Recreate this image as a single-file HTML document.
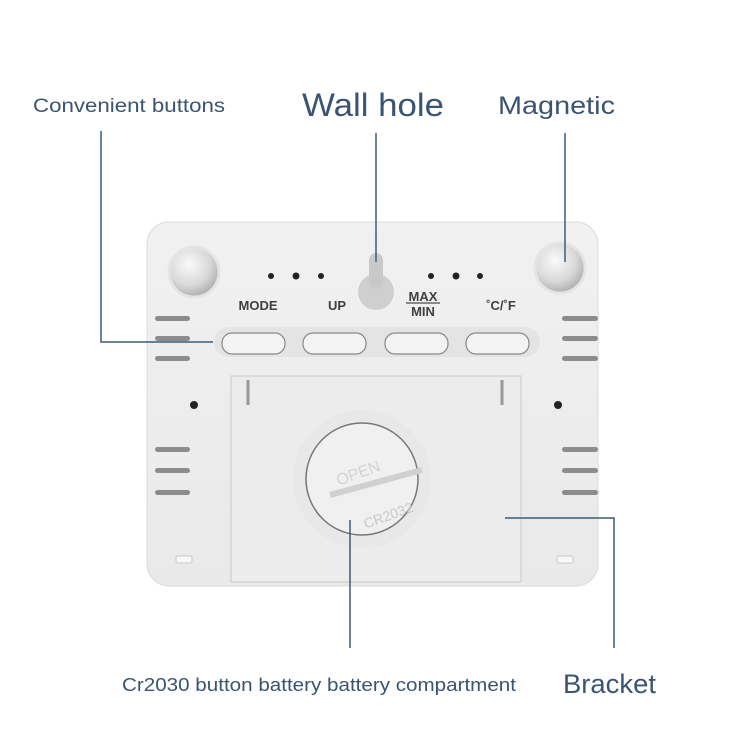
<!DOCTYPE html>
<html><head><meta charset="utf-8"><style>
body{margin:0;background:#fff;width:750px;height:749px;overflow:hidden;font-family:"Liberation Sans",sans-serif}
svg{display:block}
</style></head><body>
<svg width="750" height="749" viewBox="0 0 750 749" xmlns="http://www.w3.org/2000/svg">
<defs>
<radialGradient id="mag" cx="0.4" cy="0.35" r="0.7"><stop offset="0" stop-color="#fafafa"/><stop offset="0.6" stop-color="#d8d8d8"/><stop offset="1" stop-color="#a8a8a8"/></radialGradient>
<linearGradient id="body" x1="0" y1="0" x2="0" y2="1"><stop offset="0" stop-color="#f1f1f1"/><stop offset="1" stop-color="#e9e9e9"/></linearGradient>
</defs>
<rect x="147" y="222" width="451" height="364" rx="22" fill="url(#body)" stroke="#dcdcdc"/>
<circle cx="194" cy="272" r="25" fill="url(#mag)" stroke="#e4e4e4" stroke-width="3"/>
<circle cx="560" cy="268" r="25" fill="url(#mag)" stroke="#e4e4e4" stroke-width="3"/>
<g fill="#222"><circle cx="271" cy="276" r="3"/><circle cx="296" cy="276" r="3.5"/><circle cx="321" cy="276" r="3"/><circle cx="431" cy="276" r="3"/><circle cx="456" cy="276" r="3.5"/><circle cx="480" cy="276" r="3"/><circle cx="194" cy="405" r="4"/><circle cx="558" cy="405" r="4"/></g>
<circle cx="376" cy="292" r="18" fill="#cfcfcf"/>
<rect x="369" y="253" width="14" height="36" rx="7" fill="#c9c9c9"/>
<g font-size="13" fill="#222" text-anchor="middle" font-weight="bold" opacity="0.85">
<text x="258" y="310">MODE</text><text x="337" y="310">UP</text>
<text x="423" y="301">MAX</text><text x="423" y="316">MIN</text>
<text x="501" y="310">˚C/˚F</text></g>
<line x1="406" y1="303" x2="440" y2="303" stroke="#222"/>
<rect x="214" y="327" width="326" height="30" rx="15" fill="#e4e4e4"/>
<g fill="#f3f3f3" stroke="#888" stroke-width="1.2">
<rect x="222" y="333" width="63" height="21" rx="10"/><rect x="303" y="333" width="63" height="21" rx="10"/>
<rect x="385" y="333" width="63" height="21" rx="10"/><rect x="466" y="333" width="63" height="21" rx="10"/></g>
<g fill="#8c8c8c">
<rect x="155" y="316" width="35" height="5" rx="2.5"/><rect x="155" y="336" width="35" height="5" rx="2.5"/><rect x="155" y="356" width="35" height="5" rx="2.5"/>
<rect x="155" y="447" width="35" height="5" rx="2.5"/><rect x="155" y="468" width="35" height="5" rx="2.5"/><rect x="155" y="490" width="35" height="5" rx="2.5"/>
<rect x="562" y="316" width="36" height="5" rx="2.5"/><rect x="562" y="336" width="36" height="5" rx="2.5"/><rect x="562" y="356" width="36" height="5" rx="2.5"/>
<rect x="562" y="447" width="36" height="5" rx="2.5"/><rect x="562" y="468" width="36" height="5" rx="2.5"/><rect x="562" y="490" width="36" height="5" rx="2.5"/></g>
<g fill="#f8f8f8" stroke="#c8c8c8"><rect x="176" y="556" width="16" height="7" rx="2"/><rect x="557" y="556" width="16" height="7" rx="2"/></g>
<rect x="231" y="376" width="290" height="206" fill="#ececec" stroke="#c8c8c8"/>
<line x1="248" y1="380" x2="248" y2="405" stroke="#999" stroke-width="3"/>
<line x1="502" y1="380" x2="502" y2="405" stroke="#999" stroke-width="3"/>
<circle cx="362" cy="479" r="69" fill="#e8e8e8"/>
<circle cx="362" cy="479" r="56" fill="#f0f0f0" stroke="#777" stroke-width="1.5"/>
<line x1="330" y1="495" x2="422" y2="470" stroke="#d0d0d0" stroke-width="6"/>
<text x="360" y="478" font-size="16" fill="#d4d4d4" transform="rotate(-20 360 478)" text-anchor="middle">OPEN</text>
<text x="390" y="520" font-size="14" fill="#c8c8c8" transform="rotate(-20 390 520)" text-anchor="middle">CR2032</text>
<g stroke="#3d5a78" stroke-width="1.5" fill="none">
<polyline points="101,131 101,342 213,342"/>
<line x1="376" y1="133" x2="376" y2="262"/>
<line x1="565" y1="133" x2="565" y2="262"/>
<line x1="350" y1="520" x2="350" y2="648"/>
<polyline points="505,518 614,518 614,648"/>
</g>
<g fill="#3a5472">
<text x="33" y="112" font-size="19" textLength="192" lengthAdjust="spacingAndGlyphs">Convenient buttons</text>
<text x="302" y="116" font-size="32" textLength="142" lengthAdjust="spacingAndGlyphs">Wall hole</text>
<text x="498" y="114" font-size="25" textLength="117" lengthAdjust="spacingAndGlyphs">Magnetic</text>
<text x="122" y="691" font-size="18" textLength="394" lengthAdjust="spacingAndGlyphs">Cr2030 button battery battery compartment</text>
<text x="563" y="693" font-size="27" textLength="93" lengthAdjust="spacingAndGlyphs">Bracket</text>
</g>
</svg>
</body></html>
